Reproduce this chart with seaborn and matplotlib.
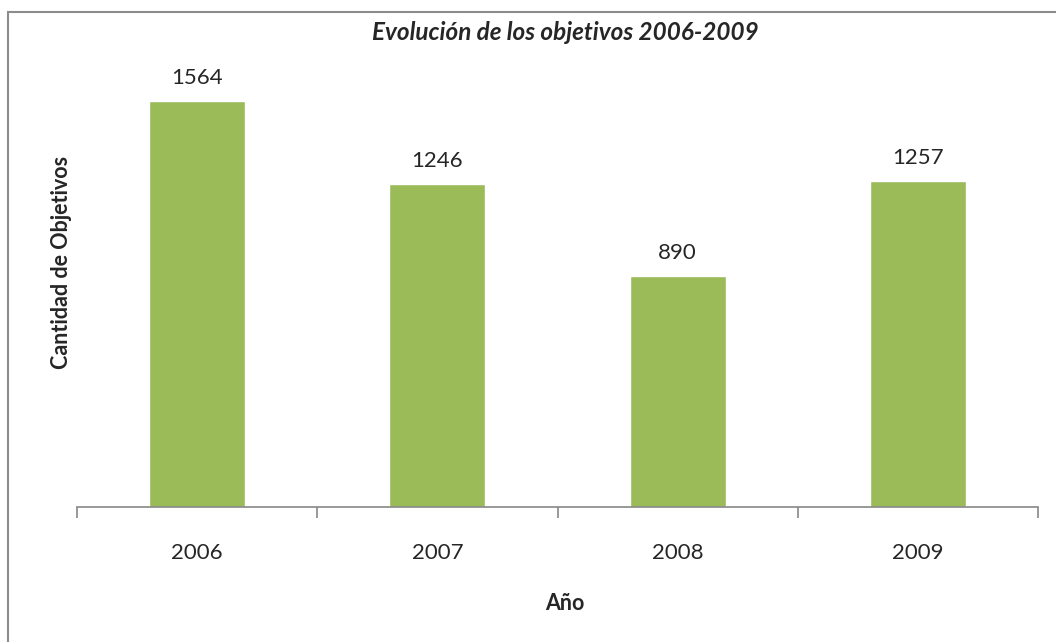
import matplotlib
matplotlib.use("Agg")
import matplotlib.pyplot as plt
from matplotlib.patches import Rectangle
import seaborn as sns
import pandas as pd

years = ["2006", "2007", "2008", "2009"]
values = [1564, 1246, 890, 1257]

sns.set_style("white")
plt.rcParams['font.family'] = ['Lato', 'DejaVu Sans']

W, H = 1056, 642
fig = plt.figure(figsize=(W / 100, H / 100), dpi=100)
ax = fig.add_axes([77 / W, 1 - 507 / H, (1038 - 77) / W, (507 - 40) / H])

df = pd.DataFrame({"Año": years, "Cantidad": values})
sns.barplot(data=df, x="Año", y="Cantidad", color="#9BBB59", saturation=1,
            width=0.4, ax=ax)

ax.set_ylim(0, 1800)
ax.set_xlim(-0.5, 3.5)
for s in ["top", "right", "left"]:
    ax.spines[s].set_visible(False)
ax.spines["bottom"].set_color("#888888")
ax.spines["bottom"].set_linewidth(1.2)
ax.set_yticks([])
ax.set_xticks([0, 1, 2, 3])
ax.set_xticklabels(years, fontsize=16)
ax.set_xticks([-0.5, 0.5, 1.5, 2.5, 3.5], minor=True)
ax.tick_params(axis="x", which="major", bottom=False, length=0, pad=26)
ax.tick_params(axis="x", which="minor", bottom=True, length=8,
               color="#888888", width=1.2, direction="out")

for i, v in enumerate(values):
    ax.text(i, v + 50, str(v), ha="center", va="bottom", fontsize=16)

ax.set_xlabel("")
ax.set_ylabel("")
fig.text(565 / W, 1 - 603 / H, "Año", ha="center", va="center",
         fontsize=15.5, fontweight="bold")
fig.text(62 / W, 1 - 262 / H, "Cantidad de Objetivos", ha="center", va="center",
         rotation=90, fontsize=15.5, fontweight="bold")

fig.text(565 / W, 1 - 33 / H, "Evolución de los objetivos 2006-2009",
         ha="center", va="center", fontsize=17.5, fontweight="bold", style="italic")

fig.patches.append(Rectangle((7.5 / W, -0.1), 1.2, (H - 11.5) / H + 0.1,
                             transform=fig.transFigure, fill=False,
                             edgecolor="#8c8c8c", linewidth=1.5))

fig.savefig("out.png", dpi=100)
